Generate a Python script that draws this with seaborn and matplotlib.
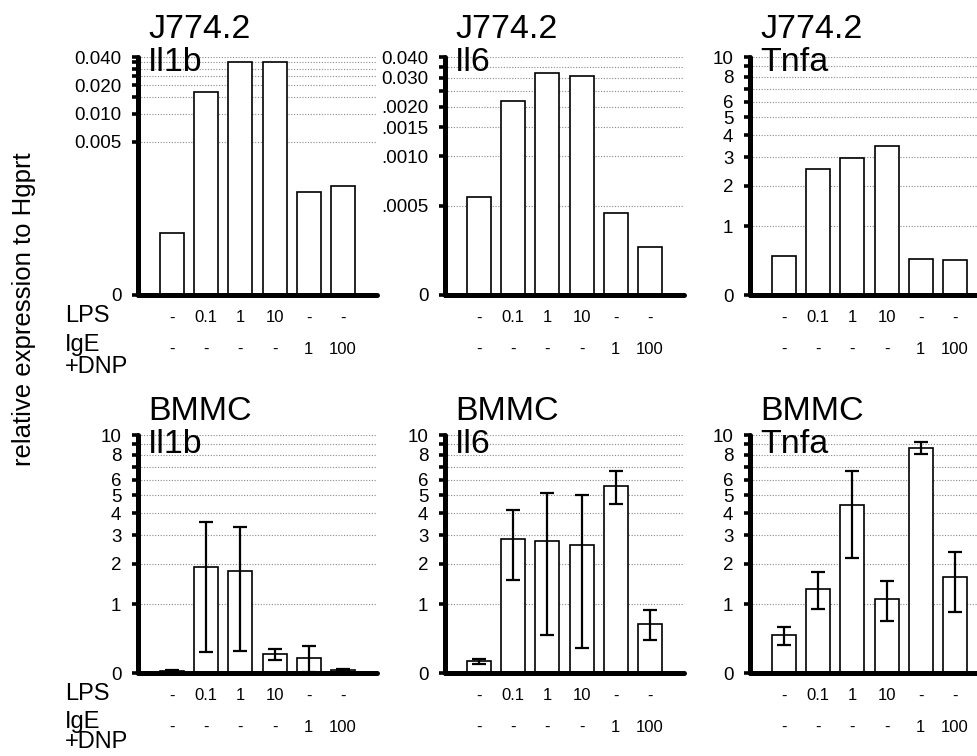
import numpy as np
import matplotlib
matplotlib.use("Agg")
import matplotlib.pyplot as plt
from matplotlib.ticker import NullLocator
import seaborn as sns

# x-axis conditions
lps = ["-", "0.1", "1", "10", "-", "-"]
ige = ["-", "-", "-", "-", "1", "100"]

# J774.2 (single values)
j774_il1b = [0.00054, 0.0171, 0.0350, 0.0358, 0.00147, 0.0017]
j774_il6 = [0.000566, 0.00217, 0.00318, 0.00306, 0.000452, 0.000281]
j774_tnfa = [0.485, 2.55, 2.97, 3.48, 0.436, 0.421]

# BMMC (mean, sd)
bmmc_il1b = [0.023, 1.91, 1.80, 0.211, 0.163, 0.034]
bmmc_il1b_sd = [0.01, 1.68, 1.55, 0.067, 0.153, 0.01]
bmmc_il6 = [0.125, 2.86, 2.79, 2.64, 5.55, 0.64]
bmmc_il6_sd = [0.027, 1.32, 2.32, 2.35, 1.07, 0.25]
bmmc_tnfa = [0.46, 1.34, 4.41, 1.11, 8.64, 1.62]
bmmc_tnfa_sd = [0.136, 0.44, 2.21, 0.415, 0.58, 0.77]

# y axis definitions
il1b_floor, il1b_top = 0.0001175, 0.040
il1b_ticks = [il1b_floor, 0.005, 0.010, 0.015, 0.020, 0.025, 0.030, 0.035, 0.040]
il1b_labels = ["0", "0.005", "0.010", "", "0.020", "", "", "", "0.040"]

il6_floor, il6_top = 0.000143, 0.0040
il6_ticks = [il6_floor, 0.0005, 0.0010, 0.0015, 0.0020, 0.0025, 0.0030, 0.0035, 0.0040]
il6_labels = ["0", ".0005", ".0010", ".0015", ".0020", "", "0.030", "", "0.040"]

lin_ticks = [0, 1, 2, 3, 4, 5, 6, 7, 8, 9, 10]
lin_labels = ["0", "1", "2", "3", "4", "5", "6", "", "8", "", "10"]

FIG_W, FIG_H = 977, 756


def set_config():
    sns.set_style("white")
    plt.rcParams["font.family"] = ["Liberation Sans", "DejaVu Sans"]
    plt.rcParams["text.color"] = "black"
    plt.rcParams["axes.edgecolor"] = "black"
    plt.rcParams["xtick.color"] = "black"
    plt.rcParams["ytick.color"] = "black"


def draw_panel(ax, values, sd, cell, gene, scale, row):
    pos = np.arange(len(values))
    sns.barplot(x=pos, y=values, color="white", edgecolor="black",
                linewidth=1.2, width=0.7, errorbar=None, saturation=1, ax=ax)
    if sd is not None:
        ax.errorbar(pos, values, yerr=sd, fmt="none", ecolor="black",
                    elinewidth=1.6, capsize=5, capthick=1.6, zorder=5)

    if scale == "il1b":
        ax.set_yscale("log")
        ax.set_ylim(il1b_floor, il1b_top)
        ax.set_yticks(il1b_ticks, il1b_labels)
    elif scale == "il6":
        ax.set_yscale("log")
        ax.set_ylim(il6_floor, il6_top)
        ax.set_yticks(il6_ticks, il6_labels)
    else:
        ax.set_yscale("function",
                      functions=(lambda y: np.log1p(np.clip(y, 0, None)), np.expm1))
        ax.set_ylim(0, 10)
        ax.set_yticks(lin_ticks, lin_labels)
    ax.yaxis.set_minor_locator(NullLocator())

    ax.set_xlim(-1, 6)
    ax.set_xticks([])
    ax.set_xlabel("")
    ax.set_ylabel("")

    ax.yaxis.grid(True, linestyle=(0, (1, 1.5)), color="#8a8a8a", linewidth=0.8)
    ax.set_axisbelow(True)

    for s in ["top", "right"]:
        ax.spines[s].set_visible(False)
    for s in ["left", "bottom"]:
        ax.spines[s].set_linewidth(3.6)
        ax.spines[s].set_color("black")
        ax.spines[s].set_capstyle("round")
    ax.tick_params(axis="y", left=True, direction="out", length=4, width=2.6,
                   pad=8, labelsize=13.5, colors="black")

    # condition rows under the bars
    for i in pos:
        ax.annotate(lps[i], xy=(i, 0), xycoords=("data", "axes fraction"),
                    xytext=(0, -23), textcoords="offset pixels",
                    ha="center", va="center", fontsize=12)
        ax.annotate(ige[i], xy=(i, 0), xycoords=("data", "axes fraction"),
                    xytext=(0, -54), textcoords="offset pixels",
                    ha="center", va="center", fontsize=12)

    # two-line title
    up, down = (19, -14) if row == 0 else (15, -18)
    ax.annotate(cell, xy=(0, 1), xycoords="axes fraction", xytext=(10, up),
                textcoords="offset pixels", ha="left", va="baseline", fontsize=24.5)
    ax.annotate(gene, xy=(0, 1), xycoords="axes fraction", xytext=(10, down),
                textcoords="offset pixels", ha="left", va="baseline", fontsize=24.5)


def main():
    set_config()
    fig = plt.figure(figsize=(FIG_W / 100, FIG_H / 100), dpi=100)

    lefts = [138, 445, 750]
    bottoms = [295, 673]
    w, h = 239, 238

    panels = [
        [(j774_il1b, None, "J774.2", "Il1b", "il1b"),
         (j774_il6, None, "J774.2", "Il6", "il6"),
         (j774_tnfa, None, "J774.2", "Tnfa", "lin")],
        [(bmmc_il1b, bmmc_il1b_sd, "BMMC", "Il1b", "lin"),
         (bmmc_il6, bmmc_il6_sd, "BMMC", "Il6", "lin"),
         (bmmc_tnfa, bmmc_tnfa_sd, "BMMC", "Tnfa", "lin")],
    ]

    row_offsets = [(-27, -56, -78), (-27, -55, -75)]
    for r, row in enumerate(panels):
        for c, (vals, sd, cell, gene, scale) in enumerate(row):
            ax = fig.add_axes([lefts[c] / FIG_W, 1 - bottoms[r] / FIG_H,
                               w / FIG_W, h / FIG_H])
            draw_panel(ax, vals, sd, cell, gene, scale, r)
            if c == 0:
                for txt, dy in zip(["LPS", "IgE", "+DNP"], row_offsets[r]):
                    ax.annotate(txt, xy=(0, 0), xycoords="axes fraction",
                                xytext=(-73, dy), textcoords="offset pixels",
                                ha="left", va="baseline", fontsize=17)

    fig.text(24 / FIG_W, 1 - 309 / FIG_H, "relative expression to Hgprt",
             rotation=90, ha="center", va="center", fontsize=18.5)

    fig.savefig("out.png", dpi=100)


if __name__ == "__main__":
    main()
